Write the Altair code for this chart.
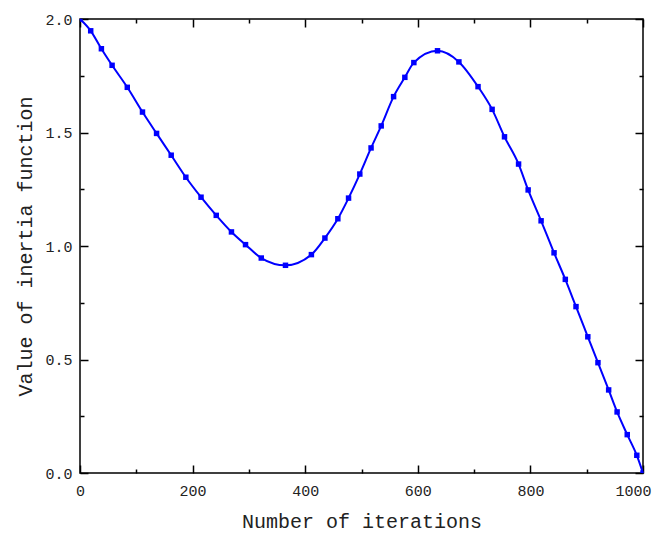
import altair as alt
import pandas as pd

# Marker / curve points
iterations = [0, 19, 38, 57, 84, 111, 136, 162, 188, 215, 242, 269, 294, 322, 365,
              411, 435, 458, 477, 497, 517, 535, 557, 577, 593, 635, 673, 707, 732,
              754, 779, 796, 819, 842, 862, 881, 902, 920, 939, 954, 972, 989, 1000]
inertia = [2.0, 1.948, 1.869, 1.796, 1.699, 1.590, 1.496, 1.400, 1.303, 1.215, 1.135,
           1.062, 1.006, 0.947, 0.915, 0.962, 1.035, 1.120, 1.211, 1.317, 1.432, 1.529,
           1.658, 1.743, 1.808, 1.860, 1.811, 1.702, 1.602, 1.481, 1.361, 1.247, 1.111,
           0.970, 0.853, 0.733, 0.600, 0.486, 0.366, 0.269, 0.169, 0.078, 0.0]

x_major = [0, 200, 400, 600, 800, 1000]
x_all_ticks = [0, 100, 200, 300, 400, 500, 600, 700, 800, 900, 1000]
y_major = [0.0, 0.5, 1.0, 1.5, 2.0]
y_all_ticks = [0.0, 0.25, 0.5, 0.75, 1.0, 1.25, 1.5, 1.75, 2.0]

df = pd.DataFrame({"x": iterations, "y": inertia})

W, H = 563, 454
FONT = "Liberation Mono"
TXT = "#222222"

xscale = alt.Scale(domain=[0, 1000], nice=False, zero=False)
yscale = alt.Scale(domain=[0, 2], nice=False, zero=False)

x_tick_size = {"condition": {"test": "datum.value % 200 === 0", "value": 8}, "value": 4}
y_tick_size = {"condition": {"test": "datum.value % 0.5 === 0", "value": 8}, "value": 4}
# keep the last x label inside the page
x_label_offset = {"condition": {"test": "datum.value === 1000", "value": -10}, "value": 0}

ax_x_labels = alt.Axis(orient="bottom", values=x_major, ticks=False, domain=False, grid=False,
                       format="d", labelFlush=False, labelPadding=10,
                       labelOffset=x_label_offset,
                       title="Number of iterations", titlePadding=13)
ax_y_labels = alt.Axis(orient="left", values=y_major, ticks=False, domain=False, grid=False,
                       format=".1f", labelFlush=False, labelPadding=8,
                       title="Value of inertia function", titlePadding=9)

ax_x_in_bottom = alt.Axis(orient="top", offset=-H, values=x_all_ticks, labels=False,
                          domain=False, grid=False, title=None, tickSize=x_tick_size)
ax_x_in_top = alt.Axis(orient="bottom", offset=-H, values=x_all_ticks, labels=False,
                       domain=False, grid=False, title=None, tickSize=x_tick_size)
ax_y_in_left = alt.Axis(orient="right", offset=-W, values=y_all_ticks, labels=False,
                        domain=False, grid=False, title=None, tickSize=y_tick_size)
ax_y_in_right = alt.Axis(orient="left", offset=-W, values=y_all_ticks, labels=False,
                         domain=False, grid=False, title=None, tickSize=y_tick_size)

base = alt.Chart(df)

line = base.mark_line(color="#0000ff", strokeWidth=2, interpolate="monotone").encode(
    x=alt.X("x:Q", scale=xscale, axis=ax_x_labels),
    y=alt.Y("y:Q", scale=yscale, axis=ax_y_labels),
)

points = base.mark_square(color="#0000ff", size=30, opacity=1, clip=True).encode(
    x=alt.X("x:Q", scale=xscale, axis=ax_x_in_bottom),
    y=alt.Y("y:Q", scale=yscale, axis=ax_y_in_left),
)

ghost = base.mark_point(opacity=0).encode(
    x=alt.X("x:Q", scale=xscale, axis=ax_x_in_top),
    y=alt.Y("y:Q", scale=yscale, axis=ax_y_in_right),
)

chart = (
    alt.layer(line, points, ghost)
    .resolve_axis(x="independent", y="independent")
    .properties(
        width=W,
        height=H,
        autosize=alt.AutoSizeParams(type="none"),
        padding={"left": 72, "top": 11, "right": 10, "bottom": 62},
        background="white",
    )
    .configure_view(stroke="#000000", strokeWidth=1.5)
    .configure_axis(
        labelFont=FONT, labelFontSize=15, labelColor=TXT,
        titleFont=FONT, titleFontSize=20, titleFontWeight="normal", titleColor=TXT,
        tickColor="#000000", tickWidth=1.5,
    )
)

chart.save("out.html", embed_options={"renderer": "svg", "actions": False})
